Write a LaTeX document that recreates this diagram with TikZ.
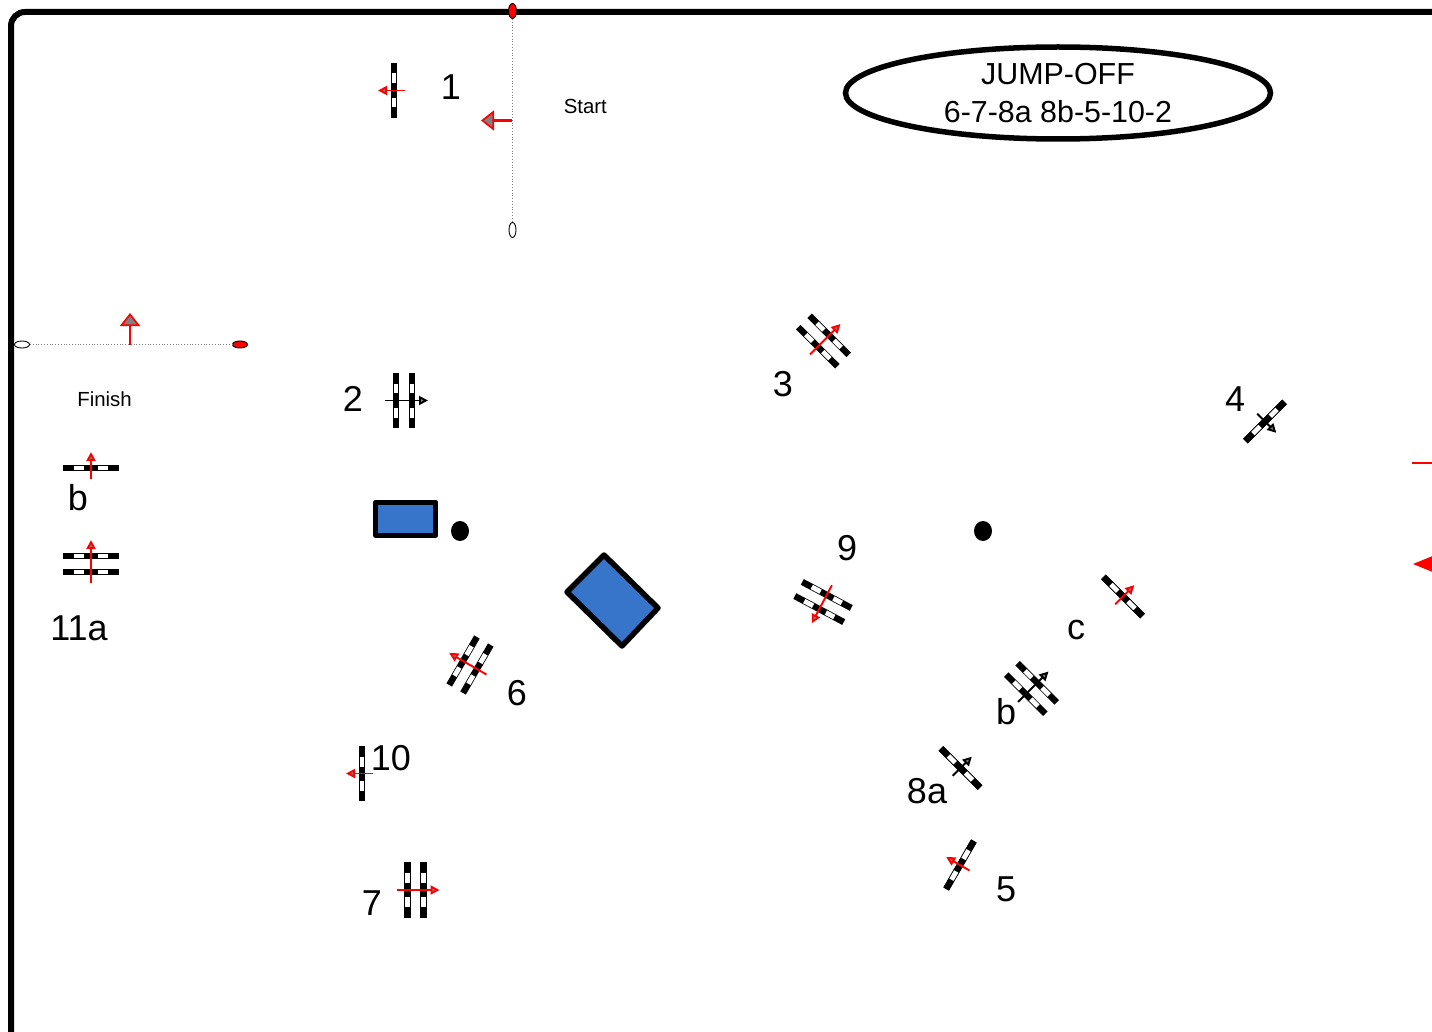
\documentclass[tikz,border=0pt]{standalone}
\usepackage{fontspec}
\setmainfont{Liberation Sans}
\usetikzlibrary{arrows.meta,shapes.geometric}
\definecolor{water}{HTML}{3675C9}

% one rail of a jump, lying across the line of travel
\newcommand{\railbar}[1]{
  \fill[black] (#1-3.2,-27.7) rectangle (#1+3.2,27.7);
  \fill[white] (#1-2.4,-17) rectangle (#1+2.4,-7.5);
  \fill[white] (#1-2.4,7) rectangle (#1+2.4,17);
}

\tikzset{
  number/.style={font=\fontsize{36}{40}\selectfont, inner sep=0pt},
  small/.style={font=\fontsize{20.4}{24}\selectfont, inner sep=0pt},
  post/.style={ellipse, draw=black, line width=0.9pt, inner sep=0pt},
  gateline/.style={gray, line width=0.8pt, dotted},
  gatearrow/.style={red, line width=2.2pt, -{Triangle[length=13pt,width=20pt,fill=gray,line width=1.7pt]}},
  obstacle/.style={draw=black, fill=water, line width=5.5pt, line join=round},
}

\begin{document}
\begin{tikzpicture}[x=1pt, y=-1pt]
\path[use as bounding box, clip] (0,0) rectangle (1432,1032);

% arena
\draw[black, line width=6pt, rounded corners=14pt] (1450,12) -| (11,1050);

% start and finish
\node[post, fill=red, minimum width=8pt, minimum height=15pt] (startRed) at (512.5,11) {};
\node[post, fill=white, minimum width=7pt, minimum height=15pt] (startWhite) at (512.5,230) {};
\draw[gateline] (startRed) -- (startWhite);
\coordinate (startMid) at (512,120.5);
\coordinate (startTip) at (481,120.5);
\draw[gatearrow] (startMid) -- (startTip);
\node[small] (startText) at (585.3,106.5) {Start};

\node[post, fill=white, minimum width=15pt, minimum height=7pt] (finishWhite) at (22,344.5) {};
\node[post, fill=red, minimum width=15pt, minimum height=7pt] (finishRed) at (240,344.5) {};
\draw[gateline] (finishWhite) -- (finishRed);
\coordinate (finishMid) at (130,344.5);
\coordinate (finishTip) at (130,313);
\draw[gatearrow] (finishMid) -- (finishTip);
\node[small] (finishText) at (104.5,399.5) {Finish};

% jumps: x/y/direction/colour/half distance between rails
\foreach \cx/\cy/\dir/\col/\gap in {
  394/90.5/180/red/0, 404/400.5/0/black/8, 823.5/341/45/red/8, 1265/421.5/-45/black/0,
  960/865/150/red/0, 470/665/150/red/8, 415.5/890/0/red/8, 960.5/768/45/black/0,
  1031.5/688.5/45/black/8, 1123/596.5/45/red/0, 823/602/242/red/8, 362/773.5/180/red/0,
  91/564/90/red/8, 91/468/90/red/0} {
  \begin{scope}[shift={(\cx,\cy)}, rotate=\dir]
    \railbar{-\gap}
    \railbar{\gap}
    \draw[\col, line width=1.9pt, -{Triangle[length=9pt,width=9pt,fill=gray]}] (-11-\gap,0) -- (16+\gap,0);
  \end{scope}
}

% numbers
\node[number] (numA) at (451,87.3) {1};
\node[number] (numB) at (353,399.3) {2};
\node[number] (numC) at (783,384.3) {3};
\node[number] (numD) at (1235,399.3) {4};
\node[number] (numE) at (1006,889.3) {5};
\node[number] (numF) at (517,693.3) {6};
\node[number] (numG) at (372,903.3) {7};
\node[number] (numH) at (927,791.3) {8a};
\node[number] (numI) at (1006,711.3) {b};
\node[number] (numJ) at (1076,630.3) {c};
\node[number] (numK) at (847,548.3) {9};
\node[number] (numL) at (391,758.3) {10};
\node[number] (numM) at (79,628.3) {11a};
\node[number] (numN) at (78,497.3) {b};

% obstacles
\draw[obstacle] (375.7,502.3) rectangle (435.7,535.3);
\draw[obstacle] (604,555) -- (658,608) -- (622,646) -- (567,592) -- cycle;
\fill[black] (460,531) ellipse (9 and 10);
\fill[black] (983,531) ellipse (9 and 10);

% jump-off box
\node[ellipse, draw=black, line width=5.5pt, minimum width=425pt, minimum height=92pt, inner sep=0pt, align=center,
  font=\fontsize{30.4}{37.5}\selectfont] (jumpoff) at (1058,93) {JUMP-OFF\\6-7-8a 8b-5-10-2};

% arrows running off the right edge
\draw[red, line width=2pt] (1412,462.5) -- (1440,462.5);
\fill[red] (1413,564) -- (1440,553) -- (1440,575) -- cycle;
\end{tikzpicture}
\end{document}
